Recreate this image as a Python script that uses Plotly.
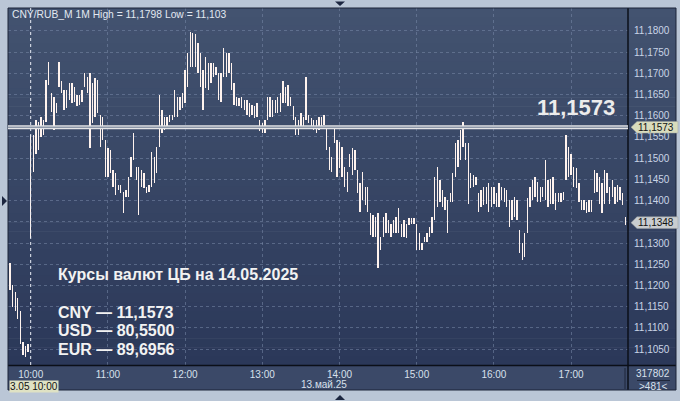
import plotly.graph_objects as go
import pandas as pd

# ---------------- data (2-minute high/low ranges) ----------------
start_time = "2025-05-13 09:44"
bar_minutes = 2

highs = [
    11.1253, 11.1200, 11.1185, 11.1170, 11.1140, 11.1066, 11.1058, 11.1062,
    11.1555, 11.1555, 11.1590, 11.1586, 11.1598, 11.1590, 11.1684, 11.1728, 11.1653, 11.1645,
    11.1630, 11.1728, 11.1681, 11.1661, 11.1661, 11.1677, 11.1677, 11.1669, 11.1649, 11.1649,
    11.1661, 11.1700, 11.1692, 11.1700, 11.1677, 11.1688, 11.1684, 11.1602, 11.1598, 11.1543,
    11.1523, 11.1519, 11.1472, 11.1464, 11.1437, 11.1437, 11.1421, 11.1425, 11.1456, 11.1504,
    11.1559, 11.1480, 11.1480, 11.1472, 11.1464, 11.1433, 11.1437, 11.1515, 11.1504, 11.1527,
    11.1649, 11.1614, 11.1598, 11.1598, 11.1602, 11.1602, 11.1661, 11.1645, 11.1645, 11.1653,
    11.1708, 11.1747, 11.1798, 11.1796, 11.1794, 11.1771, 11.1747, 11.1708, 11.1739, 11.1724,
    11.1724, 11.1724, 11.1716, 11.1700, 11.1700, 11.1759, 11.1747, 11.1747, 11.1724, 11.1677,
    11.1645, 11.1641, 11.1645, 11.1637, 11.1637, 11.1630, 11.1626, 11.1622, 11.1630, 11.1590,
    11.1582, 11.1590, 11.1645, 11.1645, 11.1637, 11.1637, 11.1645, 11.1653, 11.1681, 11.1669,
    11.1673, 11.1645, 11.1622, 11.1598, 11.1590, 11.1606, 11.1598, 11.1692, 11.1602, 11.1594,
    11.1590, 11.1590, 11.1598, 11.1598, 11.1602, 11.1574, 11.1527, 11.1504, 11.1574, 11.1543,
    11.1539, 11.1527, 11.1480, 11.1468, 11.1511, 11.1523, 11.1519, 11.1472, 11.1441, 11.1468,
    11.1433, 11.1433, 11.1370, 11.1366, 11.1362, 11.1370, 11.1315, 11.1362, 11.1370, 11.1354,
    11.1346, 11.1354, 11.1362, 11.1382, 11.1346, 11.1354, 11.1346, 11.1358, 11.1358, 11.1358,
    11.1346, 11.1323, 11.1299, 11.1315, 11.1323, 11.1338, 11.1362, 11.1456, 11.1480, 11.1448,
    11.1425, 11.1409, 11.1401, 11.1417, 11.1464, 11.1535, 11.1543, 11.1567, 11.1586, 11.1535,
    11.1535, 11.1464, 11.1460, 11.1456, 11.1417, 11.1425, 11.1433, 11.1433, 11.1441, 11.1433,
    11.1433, 11.1417, 11.1441, 11.1433, 11.1429, 11.1425, 11.1401, 11.1401, 11.1409, 11.1401,
    11.1331, 11.1299, 11.1323, 11.1405, 11.1433, 11.1448, 11.1456, 11.1445, 11.1433, 11.1433,
    11.1496, 11.1448, 11.1452, 11.1456, 11.1417, 11.1417, 11.1417, 11.1421, 11.1555, 11.1527,
    11.1511, 11.1480, 11.1476, 11.1441, 11.1401, 11.1401, 11.1397, 11.1401, 11.1401, 11.1472,
    11.1464, 11.1456, 11.1441, 11.1472, 11.1464, 11.1433, 11.1448, 11.1433, 11.1437, 11.1433,
    11.1417, 11.1362,
]

lows = [
    11.1189, 11.1150, 11.1140, 11.1120, 11.1062, 11.1036, 11.1030, 11.1042,
    11.1311, 11.1468, 11.1511, 11.1519, 11.1551, 11.1555, 11.1586, 11.1673, 11.1610, 11.1567,
    11.1606, 11.1669, 11.1653, 11.1614, 11.1618, 11.1637, 11.1630, 11.1633, 11.1622, 11.1626,
    11.1633, 11.1669, 11.1653, 11.1523, 11.1582, 11.1598, 11.1606, 11.1527, 11.1543, 11.1456,
    11.1456, 11.1464, 11.1433, 11.1413, 11.1425, 11.1417, 11.1370, 11.1409, 11.1409, 11.1456,
    11.1496, 11.1448, 11.1366, 11.1433, 11.1429, 11.1417, 11.1421, 11.1433, 11.1441, 11.1464,
    11.1527, 11.1559, 11.1567, 11.1574, 11.1586, 11.1590, 11.1598, 11.1598, 11.1614, 11.1618,
    11.1630, 11.1669, 11.1716, 11.1716, 11.1716, 11.1700, 11.1669, 11.1614, 11.1665, 11.1661,
    11.1677, 11.1692, 11.1696, 11.1637, 11.1633, 11.1692, 11.1692, 11.1700, 11.1661, 11.1626,
    11.1622, 11.1622, 11.1618, 11.1614, 11.1602, 11.1598, 11.1602, 11.1594, 11.1598, 11.1563,
    11.1559, 11.1559, 11.1590, 11.1598, 11.1598, 11.1606, 11.1606, 11.1610, 11.1630, 11.1630,
    11.1622, 11.1622, 11.1590, 11.1555, 11.1555, 11.1574, 11.1574, 11.1590, 11.1582, 11.1574,
    11.1567, 11.1559, 11.1567, 11.1574, 11.1578, 11.1519, 11.1472, 11.1468, 11.1535, 11.1456,
    11.1476, 11.1456, 11.1433, 11.1421, 11.1480, 11.1460, 11.1472, 11.1417, 11.1374, 11.1401,
    11.1390, 11.1374, 11.1319, 11.1315, 11.1315, 11.1240, 11.1283, 11.1315, 11.1323, 11.1323,
    11.1315, 11.1323, 11.1323, 11.1323, 11.1315, 11.1315, 11.1311, 11.1342, 11.1346, 11.1346,
    11.1283, 11.1283, 11.1283, 11.1303, 11.1303, 11.1315, 11.1323, 11.1354, 11.1386, 11.1397,
    11.1386, 11.1378, 11.1323, 11.1397, 11.1397, 11.1456, 11.1480, 11.1496, 11.1527, 11.1496,
    11.1393, 11.1429, 11.1433, 11.1437, 11.1374, 11.1386, 11.1390, 11.1393, 11.1374, 11.1386,
    11.1393, 11.1386, 11.1386, 11.1401, 11.1397, 11.1386, 11.1338, 11.1354, 11.1362, 11.1354,
    11.1276, 11.1260, 11.1268, 11.1323, 11.1386, 11.1401, 11.1409, 11.1397, 11.1397, 11.1409,
    11.1401, 11.1386, 11.1393, 11.1393, 11.1378, 11.1397, 11.1397, 11.1401, 11.1448, 11.1456,
    11.1460, 11.1433, 11.1429, 11.1397, 11.1378, 11.1378, 11.1370, 11.1374, 11.1374, 11.1417,
    11.1421, 11.1393, 11.1370, 11.1393, 11.1417, 11.1393, 11.1409, 11.1393, 11.1397, 11.1401,
    11.1390, 11.1342,
]

price_cb = 11.1573
last_price = 11.1348
y_tick_values = [11.105, 11.110, 11.115, 11.120, 11.125, 11.130, 11.135, 11.140,
                 11.145, 11.150, 11.155, 11.160, 11.165, 11.170, 11.175, 11.180]
y_tick_labels = ["11,1050", "11,1100", "11,1150", "11,1200", "11,1250", "11,1300", "",
                 "11,1400", "11,1450", "11,1500", "11,1550", "11,1600", "11,1650",
                 "11,1700", "11,1750", "11,1800"]
hour_ticks = ["2025-05-13 10:00", "2025-05-13 11:00", "2025-05-13 12:00", "2025-05-13 13:00",
              "2025-05-13 14:00", "2025-05-13 15:00", "2025-05-13 16:00", "2025-05-13 17:00"]
hour_labels = ["10:00", "11:00", "12:00", "13:00", "14:00", "15:00", "16:00", "17:00"]
cursor_time = "2025-05-13 10:00"
x_start = "2025-05-13 09:42:22"
x_end = "2025-05-13 17:44:12"
y_low, y_high = 11.10123, 11.18542

title_text = "CNY/RUB_M 1M High = 11,1798 Low = 11,103"
info_title = "Курсы валют ЦБ на 14.05.2025"
info_lines = ["CNY — 11,1573", "USD — 80,5500", "EUR — 89,6956"]
big_label = "11,1573"
tag_labels = ["11,1573", "11,1348"]
date_label = "13.май.25"
cursor_label = "3.05 10:00"
corner_top = "317802"
corner_bottom = ">481<"

# ---------------- geometry helpers (pixel -> paper) ----------------
W, H = 680, 401
L, R, T, B = 8, 52, 8, 36
PW, PH = W - L - R, H - T - B


def px(x):
    return (x - L) / PW


def py(y):
    return (H - B - y) / PH


FONT = "Liberation Sans, Arial, sans-serif"

times = pd.date_range(start_time, periods=len(highs), freq=f"{bar_minutes}min")
ranges = [h - l for h, l in zip(highs, lows)]

fig = go.Figure()
fig.add_trace(go.Bar(
    x=times, y=ranges, base=lows,
    width=62000,
    marker=dict(color="#fff3ee", line=dict(width=0)),
    hoverinfo="skip",
))

shapes = []
# gradient background for plot + right axis panel
N = 40
top_c = (67, 83, 112)
bot_c = (43, 56, 89)
for i in range(N):
    f = (i + 0.5) / N
    c = tuple(int(round(top_c[k] + (bot_c[k] - top_c[k]) * f)) for k in range(3))
    y0 = 8 + (365 - 8) * i / N
    y1 = 8 + (365 - 8) * (i + 1) / N + 0.6
    shapes.append(dict(type="rect", xref="paper", yref="paper", x0=px(8), x1=px(676),
                       y0=py(y1), y1=py(y0), fillcolor=f"rgb{c}", line=dict(width=0),
                       layer="below"))
# bottom axis panel
shapes.append(dict(type="rect", xref="paper", yref="paper", x0=px(8), x1=px(676),
                   y0=py(390), y1=py(365), fillcolor="#3b4968", line=dict(width=0), layer="below"))
# frame lines
shapes.append(dict(type="line", xref="paper", yref="paper", x0=px(628), x1=px(628),
                   y0=py(390), y1=py(8), line=dict(color="#0b0f18", width=1.5)))
shapes.append(dict(type="line", xref="paper", yref="paper", x0=px(8), x1=px(676),
                   y0=py(365.5), y1=py(365.5), line=dict(color="#0b0f18", width=1.5)))
shapes.append(dict(type="rect", xref="paper", yref="paper", x0=px(8), x1=px(676),
                   y0=py(390), y1=py(8), line=dict(color="#1d2538", width=1), layer="above"))
shapes.append(dict(type="line", xref="paper", yref="paper", x0=px(625), x1=px(625),
                   y0=py(389), y1=py(368), line=dict(color="#1f273a", width=1)))
shapes.append(dict(type="line", xref="paper", yref="paper", x0=px(637), x1=px(670),
                   y0=py(380.5), y1=py(380.5), line=dict(color="#1f273a", width=1)))
# cursor dotted line
shapes.append(dict(type="line", xref="x", yref="paper", x0=cursor_time, x1=cursor_time,
                   y0=0, y1=1, line=dict(color="rgba(235,238,245,0.95)", width=1, dash="dot")))
# CB price line (double line)
shapes.append(dict(type="line", xref="paper", yref="y", x0=0, x1=1, y0=price_cb, y1=price_cb,
                   line=dict(color="#e4e4e6", width=4)))
shapes.append(dict(type="line", xref="paper", yref="y", x0=0, x1=1, y0=price_cb, y1=price_cb,
                   line=dict(color="#8d97a8", width=1.3)))

# price tags on the right axis
hh = 0.00137


def tag(yv, color):
    p = (f"M {px(631)},{yv} L {px(637)},{yv + hh} L {px(678)},{yv + hh} "
         f"L {px(678)},{yv - hh} L {px(637)},{yv - hh} Z")
    return dict(type="path", xref="paper", yref="y", path=p, fillcolor=color,
                line=dict(color="#9aa0a0", width=0.5), layer="above")


shapes.append(tag(price_cb, "#d9dcbd"))
shapes.append(tag(last_price, "#c9cdd0"))

# little navigation triangles in the outer frame
shapes.append(dict(type="path", xref="paper", yref="paper",
                   path=f"M {px(335)},{py(1.5)} L {px(345)},{py(1.5)} L {px(340)},{py(6)} Z",
                   fillcolor="#1c2640", line=dict(width=0)))
shapes.append(dict(type="path", xref="paper", yref="paper",
                   path=f"M {px(335)},{py(400)} L {px(345)},{py(400)} L {px(340)},{py(395)} Z",
                   fillcolor="#1c2640", line=dict(width=0)))
shapes.append(dict(type="path", xref="paper", yref="paper",
                   path=f"M {px(2)},{py(196)} L {px(2)},{py(206)} L {px(7)},{py(201)} Z",
                   fillcolor="#1c2640", line=dict(width=0)))

annotations = [
    dict(text=title_text, xref="paper", yref="paper", x=px(10), y=py(14),
         xanchor="left", yanchor="middle", showarrow=False,
         font=dict(family=FONT, size=10.3, color="#e2e8f0")),
    dict(text=f"<b>{big_label}</b>", xref="paper", yref="paper", x=px(617), y=py(107),
         xanchor="right", yanchor="middle", showarrow=False,
         font=dict(family=FONT, size=22, color="#ececec")),
    dict(text=f"<b>{info_title}</b>", xref="paper", yref="paper", x=px(56), y=py(274),
         xanchor="left", yanchor="middle", showarrow=False,
         font=dict(family=FONT, size=16, color="#f2f2f2")),
]
for i, line in enumerate(info_lines):
    annotations.append(dict(text=f"<b>{line}</b>", xref="paper", yref="paper", x=px(56),
                            y=py(312.5 + 18.3 * i), xanchor="left", yanchor="middle",
                            showarrow=False, font=dict(family=FONT, size=16, color="#f2f2f2")))
for yv, lab in zip([price_cb, last_price], tag_labels):
    annotations.append(dict(text=lab, xref="paper", yref="y", x=px(656), y=yv,
                            xanchor="center", yanchor="middle", showarrow=False,
                            font=dict(family=FONT, size=10, color="#111111")))
annotations += [
    dict(text=cursor_label, xref="paper", yref="paper", x=px(9), y=py(386.5),
         xanchor="left", yanchor="middle", showarrow=False, bgcolor="#dfe2c4",
         borderpad=0, font=dict(family=FONT, size=10, color="#111111")),
    dict(text=date_label, xref="paper", yref="paper", x=px(349), y=py(384.5),
         xanchor="right", yanchor="middle", showarrow=False,
         font=dict(family=FONT, size=10, color="#d8e0ec")),
    dict(text=corner_top, xref="paper", yref="paper", x=px(653), y=py(373),
         xanchor="center", yanchor="middle", showarrow=False,
         font=dict(family=FONT, size=10, color="#d8e0ec")),
    dict(text=corner_bottom, xref="paper", yref="paper", x=px(653), y=py(386.5),
         xanchor="center", yanchor="middle", showarrow=False,
         font=dict(family=FONT, size=10, color="#d8e0ec")),
]

fig.update_layout(
    width=W, height=H,
    margin=dict(l=L, r=R, t=T, b=B),
    paper_bgcolor="#bac6d6",
    plot_bgcolor="rgba(0,0,0,0)",
    showlegend=False,
    bargap=0,
    separators=", ",
    shapes=shapes,
    annotations=annotations,
    xaxis=dict(
        type="date", range=[x_start, x_end],
        tickvals=pd.to_datetime(hour_ticks), ticktext=hour_labels,
        showgrid=True, gridcolor="rgba(120,136,168,0.55)", griddash="dot", gridwidth=1,
        ticks="", showline=False, zeroline=False,
        tickfont=dict(family=FONT, size=10, color="#d8e0ec"),
        ticklabelstandoff=2,
    ),
    yaxis=dict(
        side="right", range=[y_low, y_high],
        tickvals=y_tick_values, ticktext=y_tick_labels,
        showgrid=True, gridcolor="rgba(120,136,168,0.55)", griddash="dot", gridwidth=1,
        ticks="", showline=False, zeroline=False,
        tickfont=dict(family=FONT, size=10, color="#c9d4e6"),
        ticklabelstandoff=5,
    ),
)

fig.write_html(
    "out.html",
    config={"displayModeBar": False, "staticPlot": True},
    post_script="document.body.style.margin='0';document.body.style.overflow='hidden';",
)
